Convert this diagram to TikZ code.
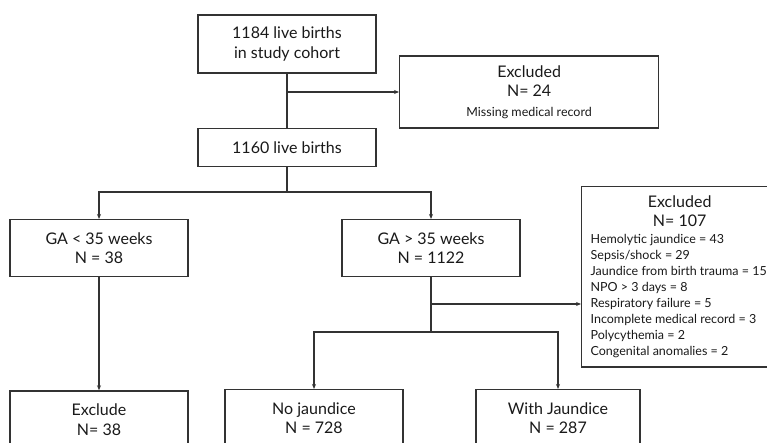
\documentclass[tikz,border=0pt]{standalone}
\usepackage{fontspec}
\setmainfont{Lato}
\usetikzlibrary{arrows.meta,positioning}
\definecolor{linegray}{HTML}{333333}

\begin{document}
\begin{tikzpicture}[
            x=1pt, y=-1pt,
            >={Stealth[length=5pt,width=4pt]},
            every node/.style={font=\fontsize{16}{19.5}\selectfont, text=black!90},
            box/.style={draw=linegray, line width=1.3pt, align=center,
                minimum width=178pt, minimum height=57pt, inner sep=4pt},
            listbox/.style={draw=linegray, line width=1.3pt, inner sep=9pt},
            link/.style={draw=linegray, line width=1.2pt}
        ]
        \useasboundingbox (0,0) rectangle (767,443);
        \clip (0,0) rectangle (767,443);
        % cohort
        \node[box, minimum height=58pt] (birth) at (287,44) {1184 live births\\in study cohort};
        \node[box, minimum height=38pt, below=54pt of birth] (live) {1160 live births};
        \node[box, minimum width=259pt, minimum height=72pt, anchor=west] (excl1) at (399,92)
            {Excluded\\N= 24\\{\fontsize{12.5}{18.5}\selectfont Missing medical record}};
        % gestational age
        \node[box, anchor=north] (gaLow) at (99,219) {GA < 35 weeks\\N = 38};
        \node[box, anchor=north] (gaHigh) at (431,219) {GA > 35 weeks\\N = 1122};
        \node[listbox, anchor=north west, minimum height=178pt] (excl2) at (581,186) {%
            \begin{minipage}{178pt}
                \centering Excluded\\N= 107\par
                \raggedright\fontsize{12.5}{16.1}\selectfont
                Hemolytic jaundice = 43\\
                Sepsis/shock = 29\\
                Jaundice from birth trauma = 15\\
                NPO > 3 days = 8\\
                Respiratory failure = 5\\
                Incomplete medical record = 3\\
                Polycythemia = 2\\
                Congenital anomalies = 2
            \end{minipage}};
        % outcome
        \node[box, below=113pt of gaLow] (excBot) {Exclude\\N= 38};
        \node[box, anchor=north] (noJ) at (314,389) {No jaundice\\N = 728};
        \node[box, anchor=north, minimum width=164pt] (withJ) at (558,389) {With Jaundice\\N = 287};

        \coordinate (cut1) at (birth.south |- excl1.west);
        \coordinate (split1) at (287,192);
        \coordinate (cut2) at (431,304);
        \coordinate (split2) at (431,332);

        \draw[link] (birth) -- (live);
        \draw[link, ->] (cut1) -- (excl1);
        \draw[link] (live) -- (split1);
        \draw[link, ->] (split1) -| (gaLow);
        \draw[link, ->] (split1) -| (gaHigh);
        \draw[link] (gaHigh) -- (split2);
        \draw[link, ->] (cut2) -- (cut2 -| excl2.west);
        \draw[link, ->] (gaLow) -- (excBot);
        \draw[link, ->] (split2) -| (noJ);
        \draw[link, ->] (split2) -| (withJ);
    \end{tikzpicture}
\end{document}
